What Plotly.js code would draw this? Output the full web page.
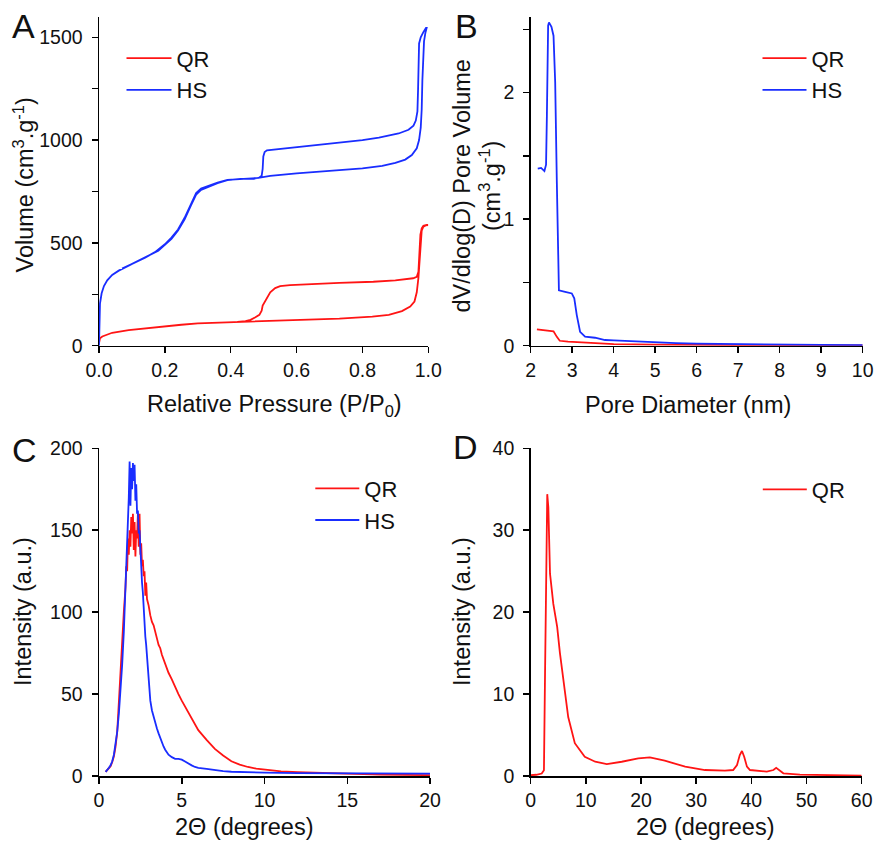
<!DOCTYPE html>
<html>
<head>
<meta charset="utf-8">
<script src="https://cdn.plot.ly/plotly-3.0.1.min.js"></script>
<style>
  html, body { margin: 0; padding: 0; background: #fff; }
  #chart { width: 875px; height: 848px; }
</style>
</head>
<body>
<div id="chart"></div>
<script>
// ---------- Panel A: N2 sorption isotherms (adsorption then desorption) ----------
const qrIsoP = [0,0.003,0.01,0.02,0.04,0.09,0.14,0.19,0.25,0.3,0.4,0.45,0.53,0.63,0.73,0.83,0.88,0.92,0.945,0.958,0.965,0.97,0.973,0.977,0.98,0.985,0.992,1.0,
  0.995,0.985,0.98,0.976,0.973,0.97,0.965,0.954,0.9,0.833,0.73,0.631,0.58,0.55,0.535,0.52,0.509,0.501,0.497,0.494,0.487,0.475,0.46,0.445,0.42];
const qrIsoV = [12,36,45,52,63,76,85,93,102,109,114,117,121,125,132,141,150,168,190,215,260,330,401,520,560,579,585,587,
  587,583,571,540,450,360,335,328,318,311,306,300,295,290,280,260,232,212,195,170,150,138,126,119,116];

const hsIsoP = [0,0.001,0.003,0.008,0.015,0.025,0.04,0.06,0.09,0.12,0.15,0.18,0.2,0.22,0.24,0.26,0.28,0.295,0.31,0.33,0.36,0.39,0.43,0.47,0.49,0.52,0.6,0.7,0.8,0.86,0.9,0.93,0.95,0.965,0.972,0.977,0.98,0.982,0.984,0.987,0.991,0.995,
  0.993,0.985,0.977,0.972,0.97,0.969,0.967,0.962,0.955,0.94,0.91,0.85,0.8,0.73,0.6,0.53,0.51,0.503,0.499,0.497,0.494,0.485,0.47,0.43,0.39,0.36,0.33,0.31,0.295,0.28,0.26,0.24,0.22,0.2,0.17,0.14,0.1,0.07];
const hsIsoV = [0,120,205,255,290,318,344,365,390,412,436,462,490,520,560,615,685,735,758,772,790,805,811,812,818,826,838,850,862,874,889,905,927,960,1000,1060,1150,1290,1420,1480,1520,1545,
  1545,1525,1500,1470,1380,1250,1140,1095,1070,1050,1032,1012,1000,988,968,955,950,942,920,860,826,816,814,812,806,793,776,764,742,690,622,565,526,493,455,428,398,375];

// ---------- Panel B: pore size distribution ----------
const qrPoreD = [2.15,2.3,2.5,2.55,2.63,2.7,2.9,3.3,3.6,4.0,5.0,6.0,8.0,10.0];
const qrPoreV = [0.129,0.124,0.12,0.114,0.07,0.039,0.032,0.025,0.018,0.012,0.008,0.005,0.003,0.002];
const hsPoreD = [2.17,2.25,2.33,2.37,2.39,2.42,2.44,2.5,2.55,2.59,2.63,2.66,2.68,2.83,2.99,3.05,3.11,3.19,3.31,3.55,3.79,4.0,4.6,5.0,5.5,6.0,7.0,8.0,9.0,10.0];
const hsPoreV = [1.40,1.405,1.38,1.43,1.82,2.53,2.555,2.52,2.45,2.08,1.29,0.50,0.437,0.426,0.413,0.374,0.242,0.11,0.071,0.063,0.045,0.042,0.032,0.025,0.02,0.016,0.011,0.008,0.006,0.005];

// ---------- Panel C: low-angle XRD ----------
const qrLowAngle = [0.4,0.5,0.6,0.7,0.8,0.9,1.0,1.1,1.2,1.3,1.4,1.5,1.6,1.65,1.7,1.75,1.8,1.85,1.9,1.95,2.0,2.05,2.1,2.15,2.2,2.25,2.3,2.35,2.4,2.45,2.5,2.55,2.6,2.65,2.7,2.75,2.8,2.85,2.9,2.95,3.0,3.1,3.2,3.3,3.4,3.5,3.6,3.7,3.8,4.0,4.2,4.4,4.6,4.8,5.0,5.5,6.0,6.5,7.0,7.5,8.0,8.5,9.0,9.5,10,11,12,13,14,15,16,17,18,19,20];
const qrLowInt = [2.5,3.5,4.5,6,8.5,12,18,27,45,66,82,100,115,128,125,145,135,150,140,158,148,160,138,155,134,150,145,160,140,160,135,142,128,132,122,125,110,118,108,106,104,98,94,92,87,84,80,78,74,68,63,59,54,50,46,37,28,22,16.5,12.5,9,7,5.5,4.5,3.8,2.8,2.3,1.9,1.6,1.4,1.1,0.9,0.7,0.6,0.5];
const hsLowAngle = [0.4,0.5,0.6,0.7,0.8,0.9,1.0,1.1,1.2,1.3,1.4,1.5,1.6,1.65,1.7,1.75,1.8,1.85,1.9,1.95,2.0,2.05,2.1,2.15,2.2,2.25,2.3,2.35,2.4,2.45,2.5,2.55,2.6,2.65,2.7,2.75,2.8,2.85,2.9,2.95,3.0,3.1,3.2,3.3,3.4,3.5,3.6,3.7,3.8,3.9,4.0,4.2,4.4,4.6,4.8,5.0,5.2,5.4,5.6,5.8,6.0,6.5,7.0,7.5,8,9,10,12,14,16,18,20];
const hsLowInt = [2.5,3.5,5,6.5,9,13,19,27,38,52,68,88,112,125,140,150,170,192,165,188,175,191,180,190,168,178,160,162,148,150,135,130,118,112,100,95,85,80,72,64,56,46,40,36,33,29,26,23,21,18,16,13,11.5,10.5,10.5,10,8.8,7.5,6.5,5.5,5,4.3,3.5,3,2.6,2.2,2,1.8,1.6,1.5,1.4,1.4];

// ---------- Panel D: wide-angle XRD ----------
const qrWideAngle = [0,1,2,2.4,2.6,2.8,3.0,3.2,3.5,4.1,4.8,5.3,6.2,6.8,8.0,9.8,11.7,13.8,16.5,19.5,21.6,24.3,28,31.6,35.2,36.7,37.4,37.9,38.3,38.7,39.2,39.75,42.8,44.0,44.5,45.0,45.8,48.8,55,60];
const qrWideInt = [0.1,0.15,0.3,0.7,12.5,28,34.4,32.8,24.7,21,18.2,15,10.7,7.2,4.0,2.35,1.74,1.46,1.74,2.15,2.27,1.87,1.14,0.73,0.65,0.73,1.34,2.56,3.05,2.35,1.14,0.73,0.53,0.73,1.0,0.73,0.33,0.16,0.07,0.05];

// ---------- Texts ----------
const panelLetters = ['A', 'B', 'C', 'D'];
const xTitles = ['Relative Pressure (P/P<sub>0</sub>)', 'Pore Diameter (nm)', '2\u0398 (degrees)', '2\u0398 (degrees)'];
const yTitles = ['Volume (cm<sup>3</sup>.g<sup>-1</sup>)', 'dV/dlog(D) Pore Volume<br>(cm<sup>3</sup>.g<sup>-1</sup>)', 'Intensity (a.u.)', 'Intensity (a.u.)'];

const RED = 'rgb(255,20,20)';
const BLUE = 'rgb(25,45,255)';
const FONT = 'Liberation Sans, Arial, Helvetica, sans-serif';
const LW = 1.8;

function line(x, y, name, color, xa, ya, legend) {
  return { x: x, y: y, name: name, type: 'scatter', mode: 'lines',
    line: { color: color, width: LW }, xaxis: xa, yaxis: ya, legend: legend };
}

const traces = [
  line(qrIsoP, qrIsoV, 'QR', RED, 'x', 'y', 'legend'),
  line(hsIsoP, hsIsoV, 'HS', BLUE, 'x', 'y', 'legend'),
  line(qrPoreD, qrPoreV, 'QR', RED, 'x2', 'y2', 'legend2'),
  line(hsPoreD, hsPoreV, 'HS', BLUE, 'x2', 'y2', 'legend2'),
  line(qrLowAngle, qrLowInt, 'QR', RED, 'x3', 'y3', 'legend3'),
  line(hsLowAngle, hsLowInt, 'HS', BLUE, 'x3', 'y3', 'legend3'),
  line(qrWideAngle, qrWideInt, 'QR', RED, 'x4', 'y4', 'legend4')
];

const W = 875, H = 848;
const px = v => v / W;
const py = v => 1 - v / H;

function axis(domain, range, dtick, extra) {
  return Object.assign({
    domain: domain, range: range, dtick: dtick, tick0: 0,
    showgrid: false, zeroline: false, showline: true,
    linecolor: '#000', linewidth: 1.5,
    ticks: 'outside', ticklen: 6, tickwidth: 1.5, tickcolor: '#000',
    tickfont: { family: FONT, size: 19.5, color: '#111' },
    fixedrange: true
  }, extra || {});
}
const titleFont = { family: FONT, size: 23.5, color: '#111' };

function legendAt(lineCenterX, topY, textX) {
  const L = lineCenterX - 20;
  return {
    x: px(L), xanchor: 'left', y: py(topY), yanchor: 'top',
    bgcolor: 'rgba(0,0,0,0)', borderwidth: 0,
    font: { family: FONT, size: 22, color: '#111' },
    itemwidth: Math.max(30, Math.round(textX - L - 10)),
    traceorder: 'normal'
  };
}

function note(text, x, y, size, angle) {
  return { text: text, x: px(x), y: py(y), xref: 'paper', yref: 'paper',
    xanchor: 'center', yanchor: 'middle', showarrow: false, textangle: angle || 0,
    font: { family: FONT, size: size, color: '#111' } };
}

const layout = {
  width: W, height: H,
  margin: { l: 0, r: 0, t: 0, b: 0 },
  paper_bgcolor: '#fff', plot_bgcolor: '#fff',
  font: { family: FONT, color: '#111' },
  showlegend: true,
  xaxis: axis([px(99), px(428.3)], [0, 1], 0.2, { anchor: 'y', tickformat: '.1f' }),
  yaxis: axis([py(345.7), py(16.7)], [0, 1600], 500, {
    anchor: 'x', ticklabelstandoff: 5,
    minor: { dtick: 250, tick0: 0, ticks: 'outside', ticklen: 6, tickwidth: 1.5, tickcolor: '#000', showgrid: false } }),
  xaxis2: axis([px(530.7), px(862.7)], [2, 10], 1, { anchor: 'y2' }),
  yaxis2: axis([py(345.7), py(16.7)], [0, 2.6], 1, {
    anchor: 'x2', ticklabelstandoff: 5,
    minor: { dtick: 0.5, tick0: 0, ticks: 'outside', ticklen: 6, tickwidth: 1.5, tickcolor: '#000', showgrid: false } }),
  xaxis3: axis([px(99), px(430)], [0, 20], 5, { anchor: 'y3' }),
  yaxis3: axis([py(776), py(448.3)], [0, 200], 50, { anchor: 'x3', ticklabelstandoff: 5 }),
  xaxis4: axis([px(530.7), px(861.7)], [0, 60], 10, { anchor: 'y4' }),
  yaxis4: axis([py(776), py(448.3)], [0, 40], 10, { anchor: 'x4', ticklabelstandoff: 5 }),
  legend: legendAt(141.5, 37.4, 176),
  legend2: legendAt(777.5, 37.4, 811.7),
  legend3: legendAt(330.3, 467.6, 364),
  legend4: legendAt(777.8, 468.6, 811.7),
  annotations: [
    note(panelLetters[0], 23.3, 25.7, 34),
    note(panelLetters[1], 466.7, 25.7, 34),
    note(panelLetters[2], 24.3, 449.7, 34),
    note(panelLetters[3], 465, 447.2, 34),
    note(xTitles[0], 274.5, 405, 23.5),
    note(xTitles[1], 688, 405, 23.5),
    note(xTitles[2], 244, 827, 23.5),
    note(xTitles[3], 705, 827, 23.5),
    note(yTitles[0], 23, 185.5, 23.5, -90),
    note(yTitles[1], 477.5, 186, 23.5, -90),
    note(yTitles[2], 23, 612, 23.5, -90),
    note(yTitles[3], 462, 612, 23.5, -90)
  ]
};

Plotly.newPlot('chart', traces, layout, { displayModeBar: false, staticPlot: true });
</script>
</body>
</html>
